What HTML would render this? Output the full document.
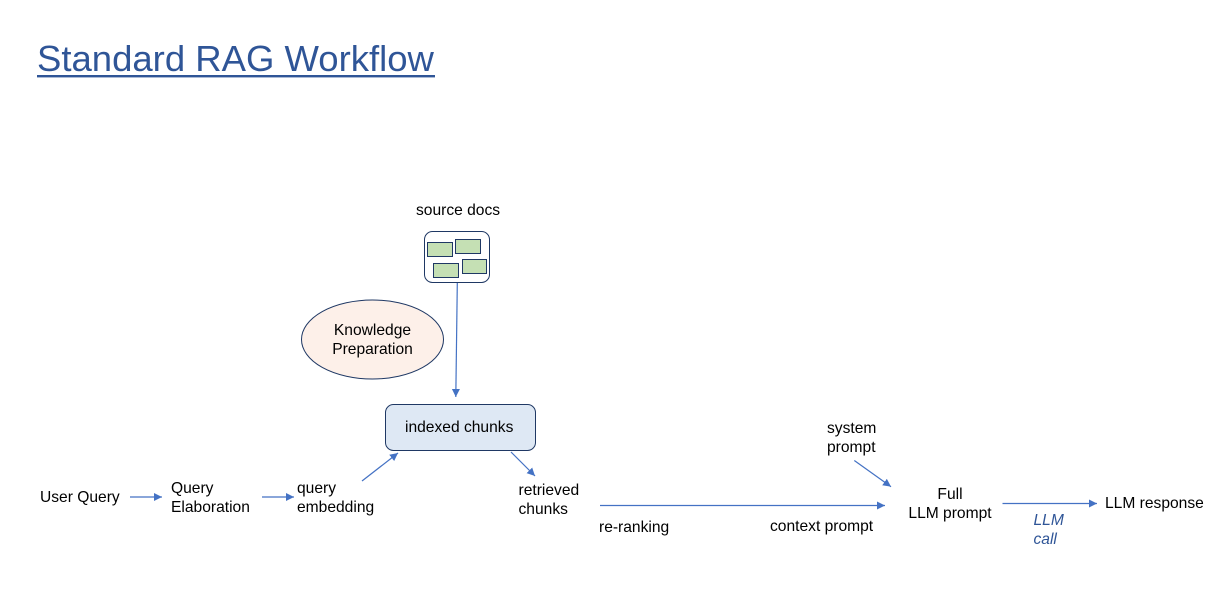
<!DOCTYPE html>
<html>
<head>
<meta charset="utf-8">
<style>
html,body{margin:0;padding:0;background:#fff;}
svg{display:block;}
text{font-family:"Liberation Sans",sans-serif;font-size:15.6px;fill:#000;}
.t{font-size:36.5px;fill:#2F5597;}
.i{font-style:italic;fill:#2F5597;}
.g{fill:#C5E0B4;stroke:#1F3864;stroke-width:1;}
.a{stroke:#4472C4;stroke-width:1.2;fill:none;}
.h{fill:#4472C4;stroke:none;}
</style>
</head>
<body>
<svg width="1230" height="597" viewBox="0 0 1230 597" xmlns="http://www.w3.org/2000/svg">
<defs>
<marker id="m" viewBox="0 0 8 8" refX="8" refY="4" markerWidth="8" markerHeight="8" markerUnits="userSpaceOnUse" orient="auto">
<path class="h" d="M0 0L8 4L0 8Z"/>
</marker>
</defs>
<rect width="1230" height="597" fill="#fff"/>

<text class="t" x="37" y="71">Standard RAG Workflow</text>
<rect x="37" y="75" width="398" height="2.4" fill="#2F5597"/>

<text x="416" y="215">source docs</text>
<rect x="424.5" y="231.5" width="65" height="51" rx="8" fill="#fff" stroke="#1F3864" stroke-width="1"/>
<rect class="g" x="427.5" y="242.5" width="25" height="14"/>
<rect class="g" x="455.5" y="239.5" width="25" height="14"/>
<rect class="g" x="433.5" y="263.5" width="25" height="14"/>
<rect class="g" x="462.5" y="259.5" width="24" height="14"/>

<ellipse cx="372.5" cy="339.5" rx="71" ry="39.5" fill="#FDF0E9" stroke="#1F3864" stroke-width="1"/>
<text x="372.5" y="335" text-anchor="middle">Knowledge</text>
<text x="372.5" y="354" text-anchor="middle">Preparation</text>

<rect x="385.5" y="404.5" width="150" height="46" rx="8" fill="#DEE8F4" stroke="#1F3864" stroke-width="1"/>
<text x="405" y="432">indexed chunks</text>

<line class="a" x1="457.3" y1="283" x2="455.8" y2="397" marker-end="url(#m)"/>
<line class="a" x1="130" y1="497" x2="162" y2="497" marker-end="url(#m)"/>
<line class="a" x1="262" y1="497" x2="294" y2="497" marker-end="url(#m)"/>
<line class="a" x1="362" y1="481" x2="398" y2="453" marker-end="url(#m)"/>
<line class="a" x1="511" y1="452" x2="535" y2="476" marker-end="url(#m)"/>
<line class="a" x1="600" y1="505.5" x2="885" y2="505.5" marker-end="url(#m)"/>
<line class="a" x1="854.3" y1="460.5" x2="891" y2="486.7" marker-end="url(#m)"/>
<line class="a" x1="1002.5" y1="503.5" x2="1097" y2="503.5" marker-end="url(#m)"/>

<text x="40" y="502">User Query</text>
<text x="171" y="493">Query</text>
<text x="171" y="512">Elaboration</text>
<text x="297" y="493">query</text>
<text x="297" y="512">embedding</text>
<text x="518.5" y="495">retrieved</text>
<text x="518.5" y="514">chunks</text>
<text x="599" y="532">re-ranking</text>
<text x="770" y="531">context prompt</text>
<text x="827" y="433">system</text>
<text x="827" y="452">prompt</text>
<text x="950" y="499" text-anchor="middle">Full</text>
<text x="950" y="518" text-anchor="middle">LLM prompt</text>
<text class="i" x="1033.5" y="525">LLM</text>
<text class="i" x="1033.5" y="544">call</text>
<text x="1105" y="508">LLM response</text>
</svg>
</body>
</html>
